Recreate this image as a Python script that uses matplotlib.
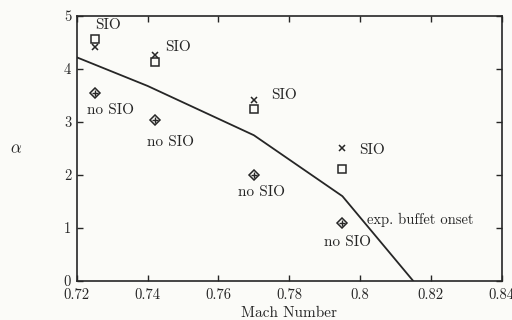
import matplotlib
matplotlib.use("Agg")
import matplotlib.pyplot as plt

# Experimental buffet onset boundary
buffet_mach = [0.72, 0.74, 0.77, 0.795, 0.815]
buffet_alpha = [4.22, 3.68, 2.75, 1.6, 0.0]

# Test cases: Mach numbers and angles of attack
mach = [0.725, 0.742, 0.77, 0.795]
alpha_cross = [4.42, 4.26, 3.42, 2.51]
alpha_square = [4.57, 4.13, 3.25, 2.11]
alpha_diamond = [3.55, 3.04, 2.0, 1.09]

ink = "#262626"
plt.rcParams["font.family"] = ["cmr10", "DejaVu Serif"]
plt.rcParams["mathtext.fontset"] = "cm"
plt.rcParams["axes.formatter.use_mathtext"] = True

fig = plt.figure(figsize=(5.12, 3.2), dpi=100, facecolor="#fbfbf8")
ax = fig.add_axes([0.150, 0.122, 0.830, 0.828])
ax.set_facecolor("#fbfbf8")

ax.plot(buffet_mach, buffet_alpha, color=ink, lw=1.3)
ax.plot(mach, alpha_cross, "x", color=ink, ms=5, mew=1.1)
ax.plot(mach, alpha_square, "s", mfc="none", mec=ink, ms=6, mew=1.1)
ax.plot(mach, alpha_diamond, "D", mfc="none", mec=ink, ms=5, mew=1.1)
ax.plot(mach, alpha_diamond, "+", color=ink, ms=5, mew=1.0)

fs = 11
ax.text(0.7252, 4.83, "SIO", fontsize=fs, color=ink, va="center")
ax.text(0.7448, 4.42, "SIO", fontsize=fs, color=ink, va="center")
ax.text(0.7750, 3.51, "SIO", fontsize=fs, color=ink, va="center")
ax.text(0.7997, 2.47, "SIO", fontsize=fs, color=ink, va="center")
ax.text(0.7228, 3.23, "no SIO", fontsize=fs, color=ink, va="center")
ax.text(0.7397, 2.62, "no SIO", fontsize=fs, color=ink, va="center")
ax.text(0.7654, 1.68, "no SIO", fontsize=fs, color=ink, va="center")
ax.text(0.7899, 0.74, "no SIO", fontsize=fs, color=ink, va="center")
ax.text(0.8020, 1.15, "exp. buffet onset", fontsize=fs - 0.5, color=ink, va="center")

ax.set_xlim(0.72, 0.84)
ax.set_ylim(0, 5)
ax.set_xticks([0.72, 0.74, 0.76, 0.78, 0.8, 0.82, 0.84])
ax.set_xticklabels(["0.72", "0.74", "0.76", "0.78", "0.8", "0.82", "0.84"])
ax.set_yticks([0, 1, 2, 3, 4, 5])
ax.set_yticklabels(["0", "1", "2", "3", "4", "5"])
ax.tick_params(direction="in", top=True, right=True, length=4, width=1,
               color=ink, labelcolor=ink, labelsize=10.5)
ax.tick_params(axis="x", pad=5)
ax.tick_params(axis="y", pad=4)
for s in ax.spines.values():
    s.set_color(ink)
    s.set_linewidth(1.2)

ax.set_xlabel("Mach Number", fontsize=11, color=ink, labelpad=3)
ax.set_ylabel(r"$\alpha$", fontsize=12, color=ink, rotation=0, ha="center", va="center")
ax.yaxis.set_label_coords(-0.143, 0.5)

fig.savefig("out.png", dpi=100, facecolor=fig.get_facecolor())
